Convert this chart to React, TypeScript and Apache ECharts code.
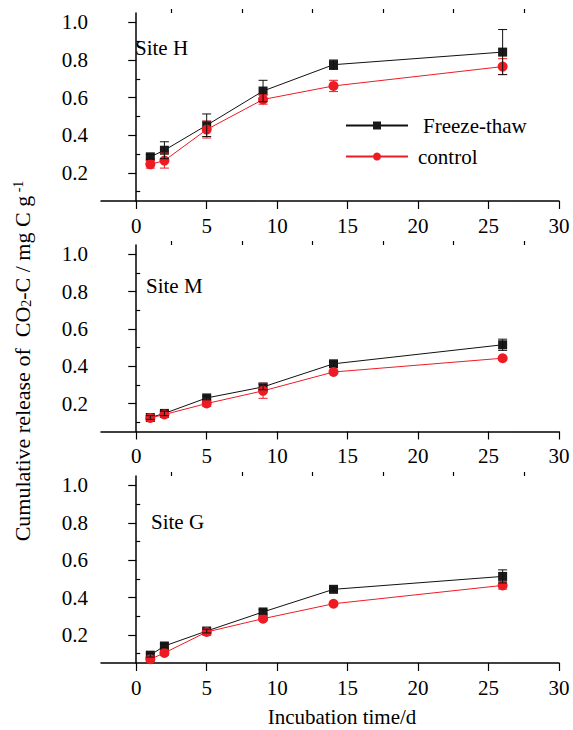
import React, { useEffect, useRef } from "react";
import * as echarts from "echarts";

const days = [1, 2, 5, 9, 14, 26];
const siteNames = ["Site H", "Site M", "Site G"];

const siteH_ft = [0.285, 0.32, 0.453, 0.635, 0.775, 0.842];
const siteH_ft_err = [0.012, 0.045, 0.06, 0.057, 0.025, 0.12];
const siteH_ctrl = [0.245, 0.265, 0.43, 0.59, 0.662, 0.765];
const siteH_ctrl_err = [0.02, 0.04, 0.045, 0.025, 0.03, 0.042];

const siteM_ft = [0.125, 0.147, 0.23, 0.289, 0.413, 0.515];
const siteM_ft_err = [0.01, 0.012, 0.01, 0.015, 0.012, 0.03];
const siteM_ctrl = [0.123, 0.141, 0.2, 0.268, 0.369, 0.443];
const siteM_ctrl_err = [0.012, 0.01, 0.015, 0.04, 0.008, 0.008];

const siteG_ft = [0.092, 0.141, 0.221, 0.323, 0.444, 0.513];
const siteG_ft_err = [0.01, 0.01, 0.01, 0.012, 0.008, 0.035];
const siteG_ctrl = [0.07, 0.104, 0.216, 0.287, 0.367, 0.465];
const siteG_ctrl_err = [0.012, 0.012, 0.012, 0.01, 0.006, 0.02];

const xMajorTicks = [0, 5, 10, 15, 20, 25, 30];
const xMinorTicks = [2.5, 7.5, 12.5, 17.5, 22.5, 27.5];
const yMajorTicks = [0.2, 0.4, 0.6, 0.8, 1.0];
const yMinorTicks = [0.1, 0.3, 0.5, 0.7, 0.9];

const FONT = "'Liberation Serif', 'Times New Roman', serif";
const BLACK = "#111111";
const RED = "#ed1c24";

const panels = [
  { ft: siteH_ft, ftErr: siteH_ft_err, ctrl: siteH_ctrl, ctrlErr: siteH_ctrl_err },
  { ft: siteM_ft, ftErr: siteM_ft_err, ctrl: siteM_ctrl, ctrlErr: siteM_ctrl_err },
  { ft: siteG_ft, ftErr: siteG_ft_err, ctrl: siteG_ctrl, ctrlErr: siteG_ctrl_err },
];

const gridTops = [13, 245, 476];
const gridHeights = [188, 186.5, 187];
const siteLabelPos = [
  [135, 48],
  [146, 286],
  [151, 522],
];

function errRender(color: string) {
  return (params: any, api: any) => {
    const x = api.value(0);
    const lo = api.value(1);
    const hi = api.value(2);
    const p1 = api.coord([x, lo]);
    const p2 = api.coord([x, hi]);
    const w = 4.5;
    const st = { stroke: color, lineWidth: 1 };
    return {
      type: "group",
      children: [
        { type: "line", shape: { x1: p1[0], y1: p1[1], x2: p2[0], y2: p2[1] }, style: st },
        { type: "line", shape: { x1: p1[0] - w, y1: p1[1], x2: p1[0] + w, y2: p1[1] }, style: st },
        { type: "line", shape: { x1: p2[0] - w, y1: p2[1], x2: p2[0] + w, y2: p2[1] }, style: st },
      ],
    };
  };
}

export default function App() {
  const ref = useRef<HTMLDivElement>(null);
  useEffect(() => {
    if (!ref.current) return;
    const chart = echarts.init(ref.current, null, { renderer: "svg" });

    const grid: any[] = [];
    const xAxis: any[] = [];
    const yAxis: any[] = [];
    const series: any[] = [];
    const graphic: any[] = [];

    panels.forEach((p, i) => {
      grid.push({ left: 101, width: 458, top: gridTops[i], height: gridHeights[i] });
      const axLine = { show: true, lineStyle: { color: "#000", width: 1.5 } };
      xAxis.push({
        type: "value",
        gridIndex: i,
        min: -2.5,
        max: 30,
        axisLine: axLine,
        splitLine: { show: false },
        axisTick: { show: true, customValues: xMajorTicks, length: 8, lineStyle: { color: "#000", width: 1.2 } },
        axisLabel: {
          customValues: xMajorTicks,
          margin: 14,
          color: "#000",
          fontFamily: FONT,
          fontSize: 21,
        },
      });
      xAxis.push({
        type: "value",
        gridIndex: i,
        min: -2.5,
        max: 30,
        axisLine: { show: false },
        splitLine: { show: false },
        axisTick: { show: true, customValues: xMinorTicks, length: 4, lineStyle: { color: "#000", width: 1.2 } },
        axisLabel: { show: false },
      });
      yAxis.push({
        type: "value",
        gridIndex: i,
        min: 0.05,
        max: 1.05,
        axisLine: axLine,
        splitLine: { show: false },
        axisTick: { show: true, customValues: yMajorTicks, length: 8, lineStyle: { color: "#000", width: 1.2 } },
        axisLabel: {
          customValues: yMajorTicks,
          margin: 13,
          color: "#000",
          fontFamily: FONT,
          fontSize: 21,
          formatter: (v: number) => v.toFixed(1),
        },
      });
      yAxis.push({
        type: "value",
        gridIndex: i,
        min: 0.05,
        max: 1.05,
        axisLine: { show: false },
        splitLine: { show: false },
        axisTick: { show: true, customValues: yMinorTicks, length: 4, lineStyle: { color: "#000", width: 1.2 } },
        axisLabel: { show: false },
      });

      const xi = 2 * i;
      const yi = 2 * i;
      series.push({
        name: "Freeze-thaw",
        type: "line",
        xAxisIndex: xi,
        yAxisIndex: yi,
        data: days.map((d, k) => [d, p.ft[k]]),
        symbol: "rect",
        symbolSize: 9,
        itemStyle: { color: "#1a1a1a" },
        lineStyle: { color: BLACK, width: 1 },
        z: 2,
      });
      series.push({
        name: "control",
        type: "line",
        xAxisIndex: xi,
        yAxisIndex: yi,
        data: days.map((d, k) => [d, p.ctrl[k]]),
        symbol: "circle",
        symbolSize: 10,
        itemStyle: { color: RED },
        lineStyle: { color: RED, width: 1 },
        z: 3,
      });
      series.push({
        name: "control",
        type: "custom",
        xAxisIndex: xi,
        yAxisIndex: yi,
        data: days.map((d, k) => [d, p.ctrl[k] - p.ctrlErr[k], p.ctrl[k] + p.ctrlErr[k]]),
        encode: { x: 0, y: [1, 2] },
        renderItem: errRender(RED),
        z: 4,
      });
      series.push({
        name: "Freeze-thaw",
        type: "custom",
        xAxisIndex: xi,
        yAxisIndex: yi,
        data: days.map((d, k) => [d, p.ft[k] - p.ftErr[k], p.ft[k] + p.ftErr[k]]),
        encode: { x: 0, y: [1, 2] },
        renderItem: errRender(BLACK),
        z: 5,
      });

      graphic.push({
        type: "text",
        x: siteLabelPos[i][0],
        y: siteLabelPos[i][1],
        style: {
          text: siteNames[i],
          fontFamily: FONT,
          fontSize: 21,
          fill: "#000",
          align: "left",
          verticalAlign: "middle",
        },
      });
    });

    graphic.push({
      type: "text",
      x: 342,
      y: 717,
      style: {
        text: "Incubation time/d",
        fontFamily: FONT,
        fontSize: 21,
        fill: "#000",
        align: "center",
        verticalAlign: "middle",
      },
    });
    graphic.push({
      type: "text",
      x: 22,
      y: 361,
      rotation: Math.PI / 2,
      style: {
        text: "Cumulative release of  CO{sub|2}-C / mg C g{sup| -1}",
        fontFamily: FONT,
        fontSize: 22,
        fill: "#000",
        align: "center",
        verticalAlign: "middle",
        rich: {
          sub: { fontFamily: FONT, fontSize: 14, fill: "#000", verticalAlign: "bottom", lineHeight: 10 },
          sup: { fontFamily: FONT, fontSize: 14, fill: "#000", verticalAlign: "top", lineHeight: 10 },
        },
      },
    });

    chart.setOption({
      animation: false,
      backgroundColor: "#fff",
      textStyle: { fontFamily: FONT },
      grid,
      xAxis,
      yAxis,
      series,
      graphic,
      legend: {
        orient: "vertical",
        left: 345,
        top: 115,
        padding: 0,
        itemWidth: 62,
        itemHeight: 10,
        itemGap: 10,
        textStyle: { fontFamily: FONT, fontSize: 21, color: "#000" },
        data: [
          { name: "Freeze-thaw", textStyle: { fontFamily: FONT, fontSize: 21, color: "#000", padding: [0, 0, 0, 10] } },
          { name: "control", textStyle: { fontFamily: FONT, fontSize: 21, color: "#000", padding: [0, 0, 0, 5] } },
        ],
      },
    });
    return () => chart.dispose();
  }, []);
  return (
    <div
      ref={ref}
      style={{ position: "absolute", left: 0, top: 0, width: 573, height: 730, background: "#fff" }}
    />
  );
}
